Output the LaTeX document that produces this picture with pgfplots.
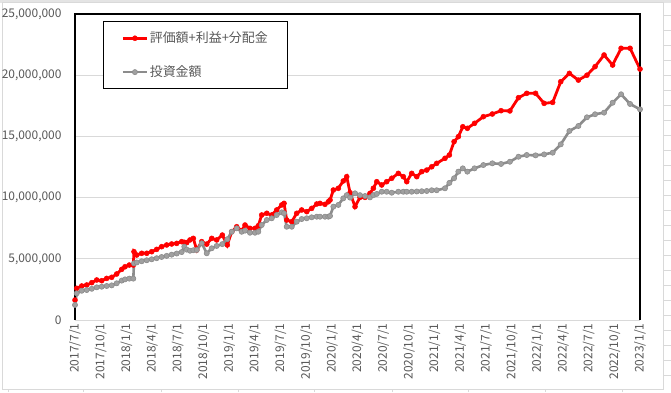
\documentclass[border=0pt]{standalone}
\usepackage{pgfplots}
\pgfplotsset{compat=1.18}
\usepackage{pgfplotstable}
\usepackage{fontspec}
\setmainfont{Noto Sans CJK JP}
\definecolor{txtgray}{HTML}{595959}
\definecolor{gridgray}{HTML}{D9D9D9}
\definecolor{serred}{HTML}{FF0000}
\definecolor{sergray}{HTML}{8C8C8C}
\definecolor{markgray}{HTML}{A0A0A0}
\pgfplotstableread{
x red gray
0 1.63 1.23
0.2 2.59 2.18
0.79 2.78 2.39
1.37 2.86 2.45
1.96 3.05 2.55
2.54 3.27 2.67
3.12 3.21 2.72
3.7 3.40 2.78
4.29 3.49 2.83
4.87 3.76 3.00
5.46 4.14 3.22
5.84 4.35 3.32
6.34 4.49 3.38
6.81 4.49 3.38
6.89 5.58 4.63
7.21 5.31 4.70
7.79 5.45 4.80
8.38 5.45 4.88
8.96 5.58 4.96
9.54 5.77 5.05
10.12 5.99 5.15
10.71 6.13 5.24
11.29 6.21 5.34
11.88 6.26 5.43
12.46 6.40 5.55
12.77 6.35 5.99
13.05 6.32 5.75
13.43 6.54 5.66
13.82 6.67 5.70
14.22 5.72 5.72
14.8 6.40 6.27
15.39 6.20 5.45
15.97 6.67 5.86
16.55 6.54 6.05
17.21 6.94 6.20
17.79 6.13 6.60
18.31 7.21 7.21
18.89 7.62 7.49
19.47 7.30 7.21
19.86 7.76 7.30
20.44 7.49 7.13
21.03 7.49 7.13
21.41 7.70 7.21
21.81 8.58 7.76
22.4 8.72 8.17
22.98 8.58 8.31
23.56 8.99 8.58
24.15 9.40 8.80
24.42 9.53 8.72
24.73 8.17 7.62
25.32 8.03 7.62
25.9 8.72 8.03
26.48 8.99 8.25
27.07 8.85 8.31
27.65 9.12 8.39
28.24 9.48 8.44
28.62 9.53 8.44
29.2 9.45 8.44
29.59 9.66 8.44
29.79 9.80 8.50
30.18 10.62 9.26
30.76 10.76 9.40
31.34 11.36 9.94
31.74 11.71 10.20
32.13 10.40 10.00
32.71 9.26 10.35
33.29 10.02 10.20
33.88 10.02 10.13
34.46 10.35 10.02
34.85 10.76 10.20
35.25 11.30 10.30
35.83 11.03 10.48
36.41 11.30 10.48
37.0 11.58 10.40
37.77 11.98 10.48
38.35 11.71 10.48
38.75 11.30 10.48
39.33 11.98 10.48
39.92 11.71 10.50
40.5 12.12 10.52
41.09 12.25 10.54
41.67 12.52 10.60
42.25 12.80 10.60
43.22 13.21 10.76
43.73 13.48 11.20
44.28 14.57 11.58
44.78 14.98 12.12
45.3 15.79 12.39
45.83 15.66 12.12
46.67 16.07 12.39
47.7 16.61 12.66
48.75 16.83 12.80
49.77 17.10 12.75
50.8 17.08 12.93
51.8 18.16 13.34
52.77 18.52 13.48
53.8 18.52 13.45
54.8 17.70 13.53
55.8 17.78 13.67
56.74 19.47 14.35
57.75 20.15 15.44
58.8 19.60 15.85
59.8 20.00 16.56
60.75 20.70 16.81
61.8 21.65 16.94
62.8 20.83 17.75
63.79 22.20 18.44
64.84 22.20 17.65
66.0 20.50 17.21
}\datatable
\begin{document}
\begin{tikzpicture}[x=1bp,y=1bp]
\useasboundingbox (0,0) rectangle (671,392);
\fill[white] (0,0) rectangle (671,392);
% spreadsheet surroundings
\fill[gridgray!70] (0,389) rectangle (671,392);
\foreach \yy in {17,32,47,62,77,92,107,122,137,152,167,182,197,212,227,242,257,272,287,302,317,332,347,362,377}
  \draw[gridgray,line width=0.8] (663,\yy) -- (671,\yy);
\foreach \xx in {8,83,161,238,314,392,468,545,622}
  \draw[gridgray,line width=0.8] (\xx,0) -- (\xx,3);
\draw[gridgray,line width=1] (2,3) rectangle (663,390);
\begin{axis}[
  at={(75bp,72bp)}, anchor=south west,
  scale only axis, width=565bp, height=306bp,
  xmin=0, xmax=66, ymin=0, ymax=25,
  clip=false,
  axis line style={draw=none},
  major tick length=0pt,
  xtick={0,3,...,66},
  xticklabels={2017/7/1,2017/10/1,2018/1/1,2018/4/1,2018/7/1,2018/10/1,2019/1/1,2019/4/1,2019/7/1,2019/10/1,2020/1/1,2020/4/1,2020/7/1,2020/10/1,2021/1/1,2021/4/1,2021/7/1,2021/10/1,2022/1/1,2022/4/1,2022/7/1,2022/10/1,2023/1/1},
  ytick={0,5,10,15,20,25},
  yticklabels={0,{5,000,000},{10,000,000},{15,000,000},{20,000,000},{25,000,000}},
  ymajorgrids, grid style={draw=gridgray, line width=0.9bp},
  tick label style={font=\fontsize{12}{14}\selectfont, text=txtgray},
  xticklabel style={rotate=90, anchor=east, yshift=0bp},
  yticklabel style={anchor=east, xshift=-10bp},
  legend style={at={(0.0496,0.977)}, anchor=north west, draw=black, line width=1bp,
    fill=white, font=\fontsize{13}{15}\selectfont, text=txtgray,
    inner xsep=18bp, inner ysep=9bp, row sep=18.5bp,
    nodes={inner sep=1.5bp}},
  legend cell align=left,
  legend image code/.code={\draw[mark repeat=2,mark phase=2] plot coordinates {(0bp,0bp) (12bp,0bp) (24bp,0bp)};},
]
\addplot[serred, line width=2.8bp, mark=*, mark size=2.5bp, mark options={fill=serred, draw=serred, line width=0.5bp}] table[x=x,y=red] {\datatable};
\addlegendentry{評価額+利益+分配金}
\addplot[sergray, line width=2.6bp, mark=*, mark size=2.6bp, mark options={fill=markgray, draw=sergray, line width=0.6bp}] table[x=x,y=gray] {\datatable};
\addlegendentry{投資金額}
\draw[gridgray, line width=1bp] (rel axis cs:0,0) -- (rel axis cs:1,0);
\draw[black, line width=1.2bp] (rel axis cs:0,0) -- (rel axis cs:0,1) -- (rel axis cs:1,1) -- (rel axis cs:1,0);
\end{axis}
\end{tikzpicture}
\end{document}
